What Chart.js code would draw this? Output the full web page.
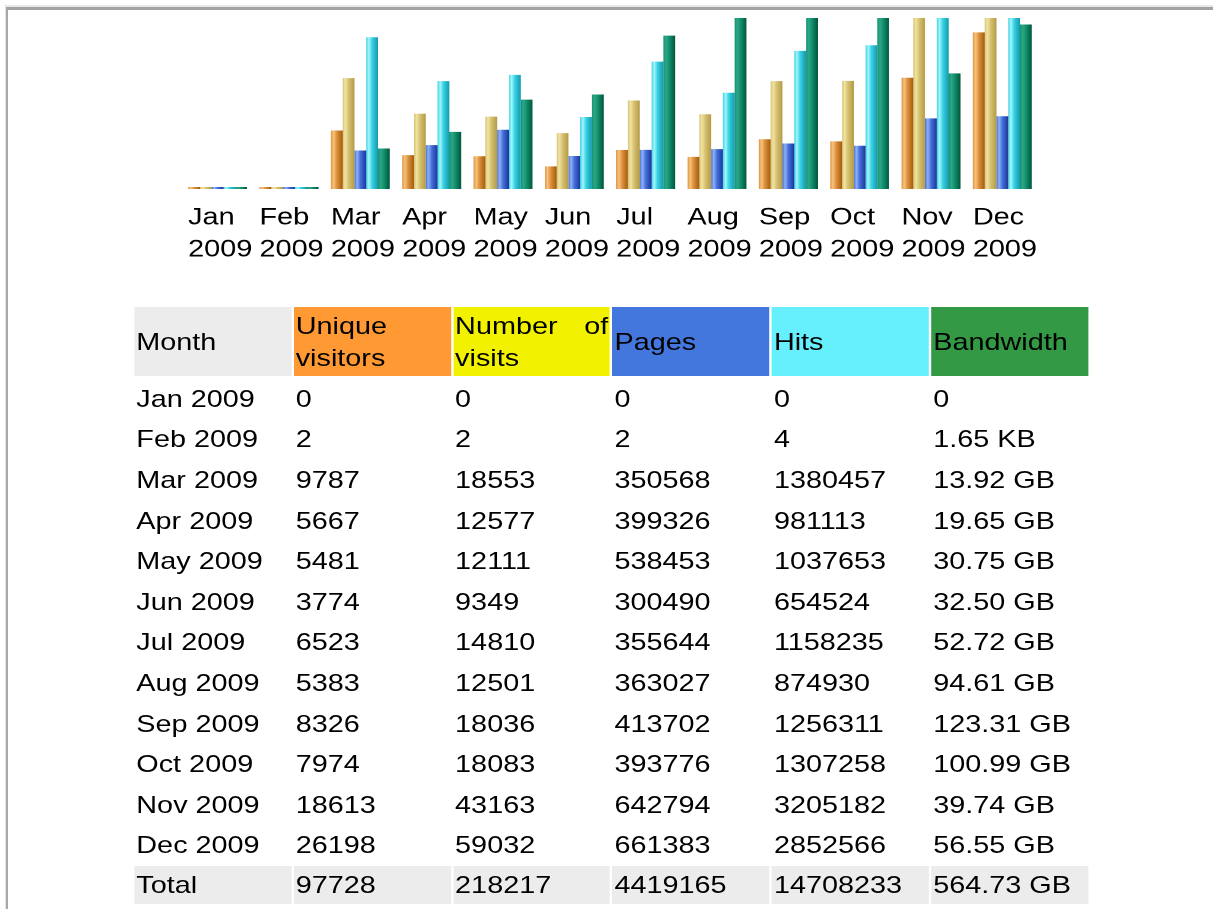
<!DOCTYPE html>
<html>
<head>
<meta charset="utf-8">
<script src="https://cdn.jsdelivr.net/npm/chart.js@4/dist/chart.umd.min.js"></script>
<style>
  html,body{margin:0;padding:0;background:#fff;overflow:hidden;}
  body{width:1213px;height:909px;position:relative;font-family:"Liberation Sans",Arial,sans-serif;}
  .frame1{position:absolute;left:5px;top:5px;width:1300px;height:1000px;border-top:2px solid #e8e8e8;border-left:1px solid #e4e4e4;}
  .frame2{position:absolute;left:0;top:0;right:0;bottom:0;border-top:3px solid #a2a2a2;border-left:2px solid #a8a8a8;}
  /* the shot is stretched sideways, so everything is laid out narrow and scaled */
  .wrap{position:absolute;left:0;top:0;width:1011px;height:909px;transform:scaleX(1.2);transform-origin:0 0;}
  #chart{position:absolute;left:0;top:0;}
  table{position:absolute;left:110px;top:304px;border-collapse:separate;border-spacing:2.6px 3px;table-layout:fixed;font-size:24px;color:#000;}
  td,th{font-weight:normal;text-align:left;vertical-align:middle;padding:0 1.6px;height:37.6px;line-height:32px;}
  tbody tr:not(.total) td{position:relative;top:1px;}
  thead th{height:69px;}
  .hm{background:#ececec;} .hu{background:#ff9933;} .hv{background:#f2f200;text-align:justify;}
  .hp{background:#4477dd;} .hh{background:#66f0fd;} .hb{background:#339944;}
  tr.total td{background:#ececec;}
</style>
</head>
<body>
<div class="frame1"><div class="frame2"></div></div>
<div class="wrap">
  <canvas id="chart" width="1011" height="271" style="width:1011px;height:271px"></canvas>
  <table id="tbl"></table>
</div>
<script>
// monthly stats
const months = ["Jan 2009","Feb 2009","Mar 2009","Apr 2009","May 2009","Jun 2009","Jul 2009","Aug 2009","Sep 2009","Oct 2009","Nov 2009","Dec 2009"];
const uniqueVisitors = [0,2,9787,5667,5481,3774,6523,5383,8326,7974,18613,26198];
const visits = [0,2,18553,12577,12111,9349,14810,12501,18036,18083,43163,59032];
const pages = [0,2,350568,399326,538453,300490,355644,363027,413702,393776,642794,661383];
const hits = [0,4,1380457,981113,1037653,654524,1158235,874930,1256311,1307258,3205182,2852566];
const bandwidthGB = [0,0.0000016,13.92,19.65,30.75,32.50,52.72,94.61,123.31,100.99,39.74,56.55];
const bandwidthText = ["0","1.65 KB","13.92 GB","19.65 GB","30.75 GB","32.50 GB","52.72 GB","94.61 GB","123.31 GB","100.99 GB","39.74 GB","56.55 GB"];
const totals = ["Total","97728","218217","4419165","14708233","564.73 GB"];
const headers = ["Month","Unique visitors","Number of visits","Pages","Hits","Bandwidth"];

// top of the bar area cuts the tall bars off, so each pair of series has its own max
const visitsMax = 28600, hitsMax = 1555000, bwMax = 58.8;

// [left edge, highlight, right shade] for the cylinder look
const shades = [
  ["#dc9240","#f8c47c","#a45c0c"],
  ["#d6c274","#f2e4a0","#b49a44"],
  ["#4670d8","#90b2f8","#1a369c"],
  ["#38d2e4","#a6f6fc","#149aac"],
  ["#129070","#2ea886","#00563a"]
];

const S = 1.2, W = 1011;
const sx = v => v / S;

function byId(id){ return document.getElementById(id); }

function cylinders(){
  return {
    id:"cylinders",
    beforeDatasetsDraw(chart){
      const c = chart.ctx;
      chart.data.datasets.forEach((ds, di)=>{
        const meta = chart.getDatasetMeta(di), sh = shades[di];
        meta.data.forEach(el=>{
          const l = el.x - el.width/2, r = el.x + el.width/2;
          const g = c.createLinearGradient(l, 0, r, 0);
          g.addColorStop(0, sh[0]); g.addColorStop(0.22, sh[1]);
          g.addColorStop(0.5, sh[0]); g.addColorStop(1, sh[2]);
          el.options = Object.assign({}, el.options, {backgroundColor:g});
        });
      });
    }
  };
}

function buildChart(){
  const hidden = (max)=>({display:false, min:0, max:max});
  const mk = (label, data, axis)=>({label, data, yAxisID:axis, backgroundColor:"#888",
    borderWidth:0, minBarLength:2, clip:0, categoryPercentage:0.826, barPercentage:1.0});
  new Chart(byId("chart"),{
    type:"bar",
    data:{
      labels: months.map(m=>m.split(" ")),
      datasets:[
        mk("Unique visitors", uniqueVisitors, "yv"),
        mk("Number of visits", visits, "yv"),
        mk("Pages", pages, "yp"),
        mk("Hits", hits, "yp"),
        mk("Bandwidth", bandwidthGB, "yb")
      ]
    },
    options:{
      responsive:false, animation:false, devicePixelRatio:2,
      layout:{padding:{left:sx(182), right:W-sx(1038), top:18, bottom:0}},
      plugins:{legend:{display:false}, tooltip:{enabled:false}},
      scales:{
        x:{grid:{display:false}, border:{display:false},
           ticks:{autoSkip:false, maxRotation:0, align:"start", labelOffset:-sx(29.5), padding:5,
                  color:"#000", font:{family:'"Liberation Sans", Arial, sans-serif', size:24, lineHeight:32/24}}},
        yv:hidden(visitsMax), yp:hidden(hitsMax), yb:hidden(bwMax)
      }
    },
    plugins:[cylinders()]
  });
}

function buildTable(){
  const t = byId("tbl");
  const cls = ["hm","hu","hv","hp","hh","hb"];
  let h = `<colgroup><col style="width:${sx(157)}px">` + `<col style="width:${sx(157)}px">`.repeat(5) + "</colgroup>";
  h += "<thead><tr>" + headers.map((x,i)=>`<th class="${cls[i]}">${x}</th>`).join("") + "</tr></thead><tbody>";
  months.forEach((m,i)=>{
    h += `<tr><td>${m}</td><td>${uniqueVisitors[i]}</td><td>${visits[i]}</td><td>${pages[i]}</td><td>${hits[i]}</td><td>${bandwidthText[i]}</td></tr>`;
  });
  h += "<tr class='total'>" + totals.map(x=>`<td>${x}</td>`).join("") + "</tr></tbody>";
  t.innerHTML = h;
}

buildTable();
buildChart();
</script>
</body>
</html>
